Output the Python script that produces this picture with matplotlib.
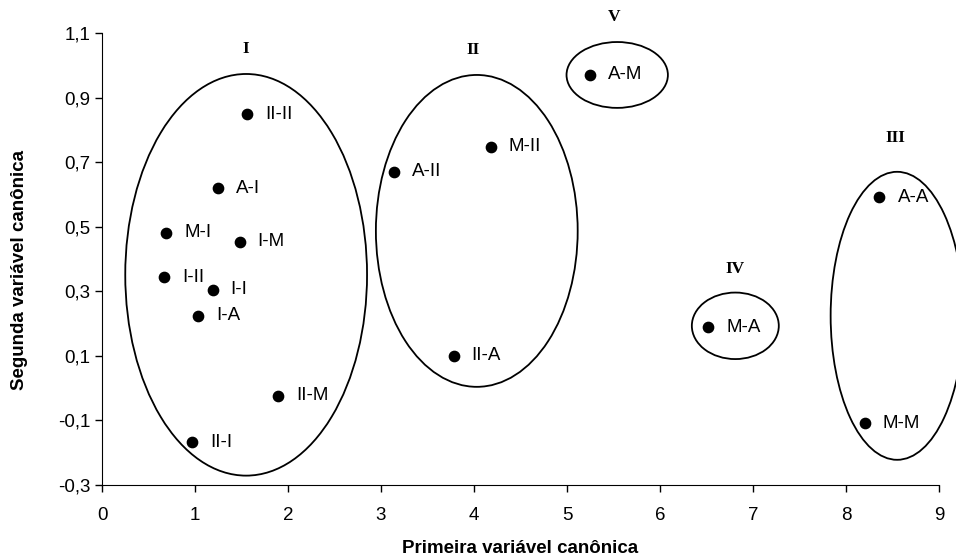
import matplotlib
matplotlib.use("Agg")
import matplotlib.pyplot as plt
from matplotlib.patches import Ellipse

# genotype points (first / second canonical variable)
labels = ["II-II", "A-I", "M-I", "I-M", "I-II", "I-I", "I-A", "II-M", "II-I",
          "A-II", "M-II", "II-A", "A-M", "M-A", "A-A", "M-M"]
x_vals = [1.56, 1.25, 0.69, 1.48, 0.67, 1.19, 1.03, 1.89, 0.97,
          3.14, 4.18, 3.78, 5.25, 6.52, 8.36, 8.20]
y_vals = [0.849, 0.619, 0.482, 0.453, 0.344, 0.304, 0.224, -0.023, -0.167,
          0.670, 0.748, 0.100, 0.970, 0.189, 0.591, -0.109]

# groups: name, centre x, centre y, width, height, label x, label y
group_names = ["I", "II", "III", "IV", "V"]
group_cx = [1.55, 4.03, 8.55, 6.81, 5.54]
group_cy = [0.351, 0.487, 0.224, 0.193, 0.970]
group_w = [2.60, 2.17, 1.43, 0.935, 1.09]
group_h = [1.244, 0.966, 0.892, 0.206, 0.204]
group_lx = [1.55, 3.99, 8.53, 6.81, 5.51]
group_ly = [1.05, 1.047, 0.774, 0.368, 1.15]

xticks = list(range(0, 10))
yticks = [-0.3, -0.1, 0.1, 0.3, 0.5, 0.7, 0.9, 1.1]

plt.rcParams['font.family'] = ['Liberation Sans', 'DejaVu Sans']

fig = plt.figure(figsize=(9.56, 5.59), dpi=100)
ax = fig.add_axes([0.1067, 0.1324, 0.8755, 0.8086])

ax.scatter(x_vals, y_vals, s=55, color='black', zorder=3, clip_on=False)
for lab, xv, yv in zip(labels, x_vals, y_vals):
    ax.annotate(lab, (xv, yv), xytext=(13, 0), textcoords='offset points',
                va='center', ha='left', fontsize=13.5)

for name, cx, cy, w, h, lx, ly in zip(group_names, group_cx, group_cy, group_w,
                                      group_h, group_lx, group_ly):
    ell = Ellipse((cx, cy), w, h, fill=False, edgecolor='black', lw=1.3, clip_on=False)
    ax.add_patch(ell)
    ax.text(lx, ly, name, ha='center', va='center', fontsize=12.5,
            fontweight='bold', family='Liberation Serif', clip_on=False)

ax.set_xlim(0, 9)
ax.set_ylim(-0.3, 1.1)
ax.set_xticks(xticks)
ax.set_yticks(yticks)
ax.set_yticklabels(['{:.1f}'.format(t).replace('.', ',') for t in yticks])
ax.tick_params(labelsize=13.5, length=5, width=1, direction='out')
ax.tick_params(axis='x', pad=11)
ax.spines['top'].set_visible(False)
ax.spines['right'].set_visible(False)

ax.set_xlabel('Primeira variável canônica', fontsize=13.5, fontweight='bold')
ax.set_ylabel('Segunda variável canônica', fontsize=13.5, fontweight='bold')
ax.xaxis.set_label_coords(0.5, -0.121)
ax.yaxis.set_label_coords(-0.088, 0.476)

fig.savefig('out.png', dpi=100)
